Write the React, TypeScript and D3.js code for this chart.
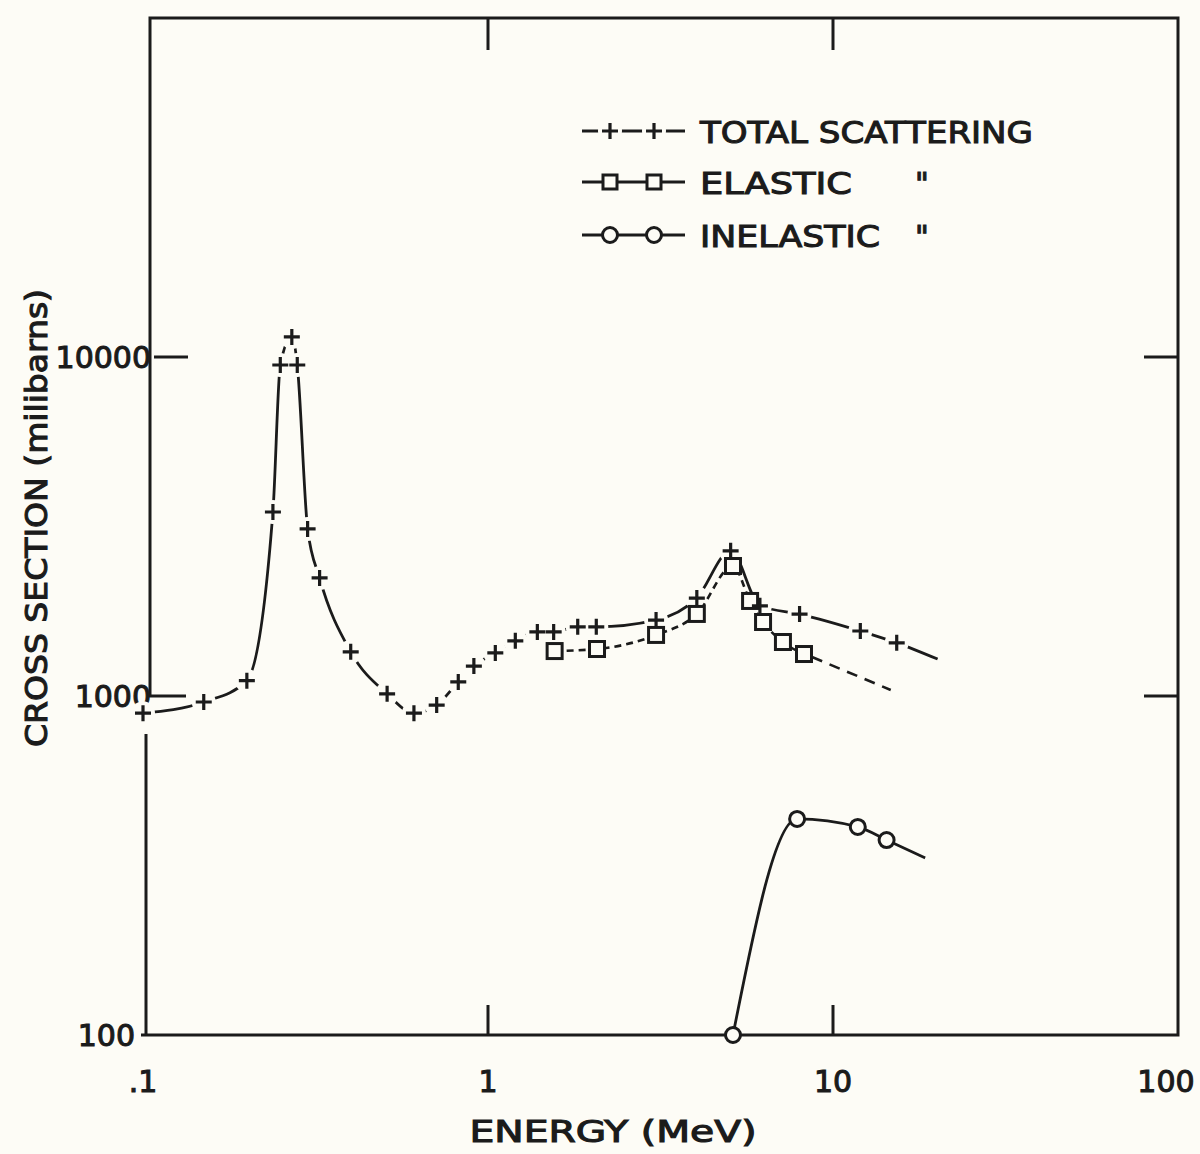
import React, { useRef, useEffect } from 'react';
import * as d3 from 'd3';

// Total scattering cross section (+), energy in MeV, sigma in millibarns
const totalEnergy = [0.1, 0.15, 0.2, 0.238, 0.25, 0.27, 0.28, 0.3, 0.325, 0.4, 0.51, 0.61, 0.71, 0.82, 0.91, 1.05, 1.2, 1.39, 1.55, 1.82, 2.06, 3.07, 4.03, 5.05, 6.14, 8.0, 12.0, 15.3];
const totalSigma = [890, 960, 1110, 3490, 9470, 11460, 9470, 3110, 2230, 1350, 1015, 890, 940, 1100, 1225, 1340, 1455, 1545, 1545, 1600, 1600, 1675, 1945, 2680, 1845, 1745, 1555, 1435];
const totalTail = [20.1, 1285];

// Elastic (squares)
const elasticEnergy = [1.56, 2.07, 3.07, 4.03, 5.13, 5.75, 6.27, 7.16, 8.24];
const elasticSigma = [1357, 1376, 1514, 1746, 2418, 1907, 1653, 1443, 1330];
const elasticTail = [14.7, 1042];

// Inelastic (circles)
const inelasticEnergy = [5.13, 7.87, 11.8, 14.3];
const inelasticSigma = [100, 434, 411, 376];
const inelasticTail = [18.5, 333];

const xTicks = [0.1, 1, 10, 100];
const xTickLabels = ['.1', '1', '10', '100'];
const yTicks = [100, 1000, 10000];
const yTickLabels = ['100', '1000', '10000'];

const legendLabels = ['TOTAL SCATTERING', 'ELASTIC', 'INELASTIC'];
const legendDitto = [false, true, true];

const W = 1200;
const H = 1154;
const INK = '#1b1b1b';
const PAPER = '#fdfcf6';
const FONT = '"DejaVu Sans", Verdana, sans-serif';

const App: React.FC = () => {
  const svgRef = useRef<SVGSVGElement>(null);

  useEffect(() => {
    if (!svgRef.current) return;
    const svg = d3.select(svgRef.current);
    svg.selectAll('*').remove();

    const x = d3.scaleLog().domain([0.1, 100]).range([143, 1178]);
    const y = d3.scaleLog().domain([100, 100000]).range([1035, 18]);

    const left = x(0.1);
    const right = x(100);
    const bottom = y(100);
    const top = y(100000);
    const upperLeft = left + 11;
    const lowerLeft = left + 3;

    svg.append('rect').attr('width', W).attr('height', H).attr('fill', PAPER);

    // frame, drawn like the hand-inked original
    const frame = svg.append('g')
      .attr('stroke', INK)
      .attr('stroke-width', 3)
      .attr('fill', 'none');

    frame.append('path')
      .attr('d', `M${upperLeft + 32},${y(1000)} H${upperLeft - 4} V${top} H${right} V${bottom} H${left - 2}`);
    frame.append('path')
      .attr('d', `M${lowerLeft},${bottom} V${y(1000) + 38}`);

    [1, 10].forEach(v => {
      frame.append('line')
        .attr('x1', x(v)).attr('x2', x(v))
        .attr('y1', bottom).attr('y2', bottom - 30);
      frame.append('line')
        .attr('x1', x(v)).attr('x2', x(v))
        .attr('y1', top).attr('y2', top + 32);
    });
    [10000].forEach(v => {
      frame.append('line')
        .attr('x1', upperLeft).attr('x2', upperLeft + 34)
        .attr('y1', y(v)).attr('y2', y(v));
    });
    [1000, 10000].forEach(v => {
      frame.append('line')
        .attr('x1', right).attr('x2', right - 34)
        .attr('y1', y(v)).attr('y2', y(v));
    });

    // lettering: slightly stroked to get the inked weight
    const ink = (sel: any, size: number) => sel
      .attr('font-family', FONT)
      .attr('font-size', size)
      .attr('fill', INK)
      .attr('stroke', INK)
      .attr('stroke-width', 1.1);

    const labels = svg.append('g');
    yTicks.forEach((v, i) => {
      ink(labels.append('text'), 30)
        .attr('x', v >= 1000 ? upperLeft - 3 : lowerLeft - 11)
        .attr('y', y(v) + 11)
        .attr('text-anchor', 'end')
        .text(yTickLabels[i]);
    });
    xTicks.forEach((v, i) => {
      ink(labels.append('text'), 30)
        .attr('x', Math.min(x(v), right - 12))
        .attr('y', bottom + 57)
        .attr('text-anchor', 'middle')
        .text(xTickLabels[i]);
    });

    // axis titles
    ink(svg.append('text'), 30)
      .attr('x', 613)
      .attr('y', 1142)
      .attr('text-anchor', 'middle')
      .attr('textLength', 287)
      .attr('lengthAdjust', 'spacingAndGlyphs')
      .text('ENERGY (MeV)');

    ink(svg.append('text'), 30)
      .attr('transform', 'translate(47,518) rotate(-90)')
      .attr('text-anchor', 'middle')
      .attr('textLength', 458)
      .attr('lengthAdjust', 'spacingAndGlyphs')
      .text('CROSS SECTION (milibarns)');

    const pts = (es: number[], ss: number[]) => es.map((e, i) => [x(e), y(ss[i])] as [number, number]);
    const totalPts = pts(totalEnergy, totalSigma);
    const elasticPts = pts(elasticEnergy, elasticSigma);
    const inelasticPts = pts(inelasticEnergy, inelasticSigma);

    const line = d3.line().curve(d3.curveMonotoneX);

    // total scattering curve
    svg.append('path')
      .attr('d', line([...totalPts, [x(totalTail[0]), y(totalTail[1])]]))
      .attr('fill', 'none')
      .attr('stroke', INK)
      .attr('stroke-width', 2.8);
    // base of the resonance triangle
    svg.append('line')
      .attr('x1', totalPts[4][0]).attr('y1', totalPts[4][1])
      .attr('x2', totalPts[6][0]).attr('y2', totalPts[6][1])
      .attr('stroke', INK)
      .attr('stroke-width', 2.8);

    // gaps in the line around each + mark
    svg.append('g').selectAll('circle')
      .data(totalPts)
      .join('circle')
      .attr('cx', d => d[0])
      .attr('cy', d => d[1])
      .attr('r', 12)
      .attr('fill', PAPER);

    // elastic curve (dashed)
    svg.append('path')
      .attr('d', line(elasticPts))
      .attr('fill', 'none')
      .attr('stroke', INK)
      .attr('stroke-width', 2.6)
      .attr('stroke-dasharray', '7,5');
    const eLast = elasticPts[elasticPts.length - 1];
    svg.append('line')
      .attr('x1', eLast[0] + 8).attr('y1', eLast[1] + 3)
      .attr('x2', x(elasticTail[0])).attr('y2', y(elasticTail[1]))
      .attr('stroke', INK)
      .attr('stroke-width', 2.6)
      .attr('stroke-dasharray', '11,8');

    // inelastic curve
    svg.append('path')
      .attr('d', line([...inelasticPts, [x(inelasticTail[0]), y(inelasticTail[1])]]))
      .attr('fill', 'none')
      .attr('stroke', INK)
      .attr('stroke-width', 2.8);

    const drawSquares = (g: any, data: [number, number][], s: number) => {
      g.selectAll('rect.sq')
        .data(data)
        .join('rect')
        .attr('class', 'sq')
        .attr('x', (d: [number, number]) => d[0] - s / 2)
        .attr('y', (d: [number, number]) => d[1] - s / 2)
        .attr('width', s)
        .attr('height', s)
        .attr('fill', PAPER)
        .attr('stroke', INK)
        .attr('stroke-width', 3);
    };
    const drawCircles = (g: any, data: [number, number][], r: number) => {
      g.selectAll('circle.ci')
        .data(data)
        .join('circle')
        .attr('class', 'ci')
        .attr('cx', (d: [number, number]) => d[0])
        .attr('cy', (d: [number, number]) => d[1])
        .attr('r', r)
        .attr('fill', PAPER)
        .attr('stroke', INK)
        .attr('stroke-width', 3);
    };
    const drawPlus = (g: any, data: [number, number][], a: number) => {
      g.selectAll('path.pl')
        .data(data)
        .join('path')
        .attr('class', 'pl')
        .attr('d', (d: [number, number]) => `M${d[0] - a},${d[1]} H${d[0] + a} M${d[0]},${d[1] - a} V${d[1] + a}`)
        .attr('fill', 'none')
        .attr('stroke', INK)
        .attr('stroke-width', 3.2);
    };

    drawSquares(svg.append('g'), elasticPts, 15);
    drawCircles(svg.append('g'), inelasticPts, 7.5);
    drawPlus(svg.append('g'), totalPts, 8);

    // legend
    const legend = svg.append('g');
    const rowY = [131, 182, 235];
    const sampleX0 = 582;
    const sampleX1 = 685;
    const markX = [610, 654];

    legendLabels.forEach((label, i) => {
      const ly = rowY[i];
      const g = legend.append('g');
      g.append('line')
        .attr('x1', sampleX0).attr('x2', sampleX1)
        .attr('y1', ly).attr('y2', ly)
        .attr('stroke', INK)
        .attr('stroke-width', 2.8);
      const mk = markX.map(mx => [mx, ly] as [number, number]);
      if (i === 0) {
        g.selectAll('circle.gap')
          .data(mk)
          .join('circle')
          .attr('class', 'gap')
          .attr('cx', d => d[0])
          .attr('cy', d => d[1])
          .attr('r', 12)
          .attr('fill', PAPER);
        drawPlus(g, mk, 8);
      } else if (i === 1) {
        drawSquares(g, mk, 14);
      } else {
        drawCircles(g, mk, 7.5);
      }
      ink(g.append('text'), 31)
        .attr('x', 700)
        .attr('y', ly + 12)
        .attr('textLength', i === 0 ? 333 : i === 1 ? 152 : 180)
        .attr('lengthAdjust', 'spacingAndGlyphs')
        .text(label);
      if (legendDitto[i]) {
        ink(g.append('text'), 30)
          .attr('x', 922)
          .attr('y', ly + 12)
          .attr('text-anchor', 'middle')
          .text('"');
      }
    });
  }, []);

  return (
    <div style={{ position: 'absolute', left: 0, top: 0, width: W, height: H, background: PAPER }}>
      <svg ref={svgRef} width={W} height={H} viewBox={`0 0 ${W} ${H}`} />
    </div>
  );
};

export default App;
